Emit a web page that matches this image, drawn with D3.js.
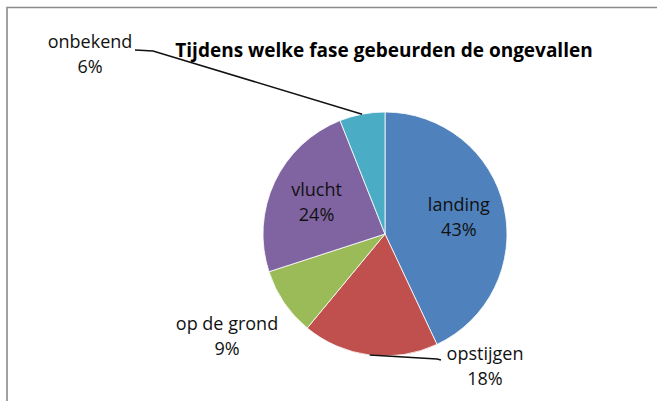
<!DOCTYPE html>
<html>
<head>
<meta charset="utf-8">
<script src="https://cdn.jsdelivr.net/npm/d3@7"></script>
<style>
  html, body { margin: 0; padding: 0; background: #fff; }
  svg { display: block; font-family: "Open Sans", Calibri, sans-serif; }
</style>
</head>
<body>
<div id="chart"></div>
<script>
// data
const phases = ["landing", "opstijgen", "op de grond", "vlucht", "onbekend"];
const shares = [43, 18, 9, 24, 6];
const colors = ["#4F81BD", "#C0504D", "#9BBB59", "#8064A2", "#4BACC6"];
const title = "Tijdens welke fase gebeurden de ongevallen";

const width = 657, height = 401;
const cx = 385, cy = 234, radius = 122;

// where each label sits, relative to the pie centre (null = inside the slice)
// leader: elbow + end of the line, relative to the label
const labelSpot = [null, [100, 126], [-158, 96], null, [-295, -186]];
const leaders = [null, [[-48, -1], [-44, 0]], null, null, [[63, 3], [45, 2]]];

const svg = d3.select("#chart")
    .append("svg")
    .attr("width", width)
    .attr("height", height);

// frame of the original picture
svg.append("path")
    .attr("d", d3.line()([[7, height], [7, 7.5], [width, 7.5]]))
    .attr("fill", "none")
    .attr("stroke", "#8a8a8a")
    .attr("stroke-width", 1.6);

svg.append("text")
    .attr("x", 384)
    .attr("y", 57)
    .attr("text-anchor", "middle")
    .style("font-weight", "bold")
    .style("font-size", "19px")
    .attr("fill", "#000")
    .text(title);

const pie = d3.pie().sort(null).value(d => d);
const arcs = pie(shares);
const arc = d3.arc().innerRadius(0).outerRadius(radius);
const labelArc = d3.arc().innerRadius(radius * 0.62).outerRadius(radius * 0.62);
const edgeArc = d3.arc().innerRadius(radius).outerRadius(radius);

const g = svg.append("g").attr("transform", `translate(${cx},${cy})`);

g.selectAll("path.slice")
    .data(arcs)
    .join("path")
    .attr("class", "slice")
    .attr("d", arc)
    .attr("fill", (d, i) => colors[i])
    .attr("stroke", "#fff")
    .attr("stroke-width", 0.8);

// leader lines
arcs.forEach((d, i) => {
    if (!leaders[i]) return;
    const [lx, ly] = labelSpot[i];
    const pts = [edgeArc.centroid(d)].concat(leaders[i].map(p => [lx + p[0], ly + p[1]]));
    g.append("path")
        .attr("d", d3.line()(pts))
        .attr("fill", "none")
        .attr("stroke", "#111")
        .attr("stroke-width", 1.5);
});

// data labels
const labels = g.selectAll("text.lbl")
    .data(arcs)
    .join("text")
    .attr("class", "lbl")
    .attr("text-anchor", "middle")
    .style("font-size", "18px")
    .attr("fill", "#111")
    .attr("transform", (d, i) => {
        if (labelSpot[i]) return `translate(${labelSpot[i]})`;
        const [x, y] = labelArc.centroid(d);
        return `translate(${x},${y - 6})`;
    });

labels.append("tspan")
    .attr("x", 0)
    .text((d, i) => phases[i]);
labels.append("tspan")
    .attr("x", 0)
    .attr("dy", 25)
    .text(d => d.data + "%");
</script>
</body>
</html>
